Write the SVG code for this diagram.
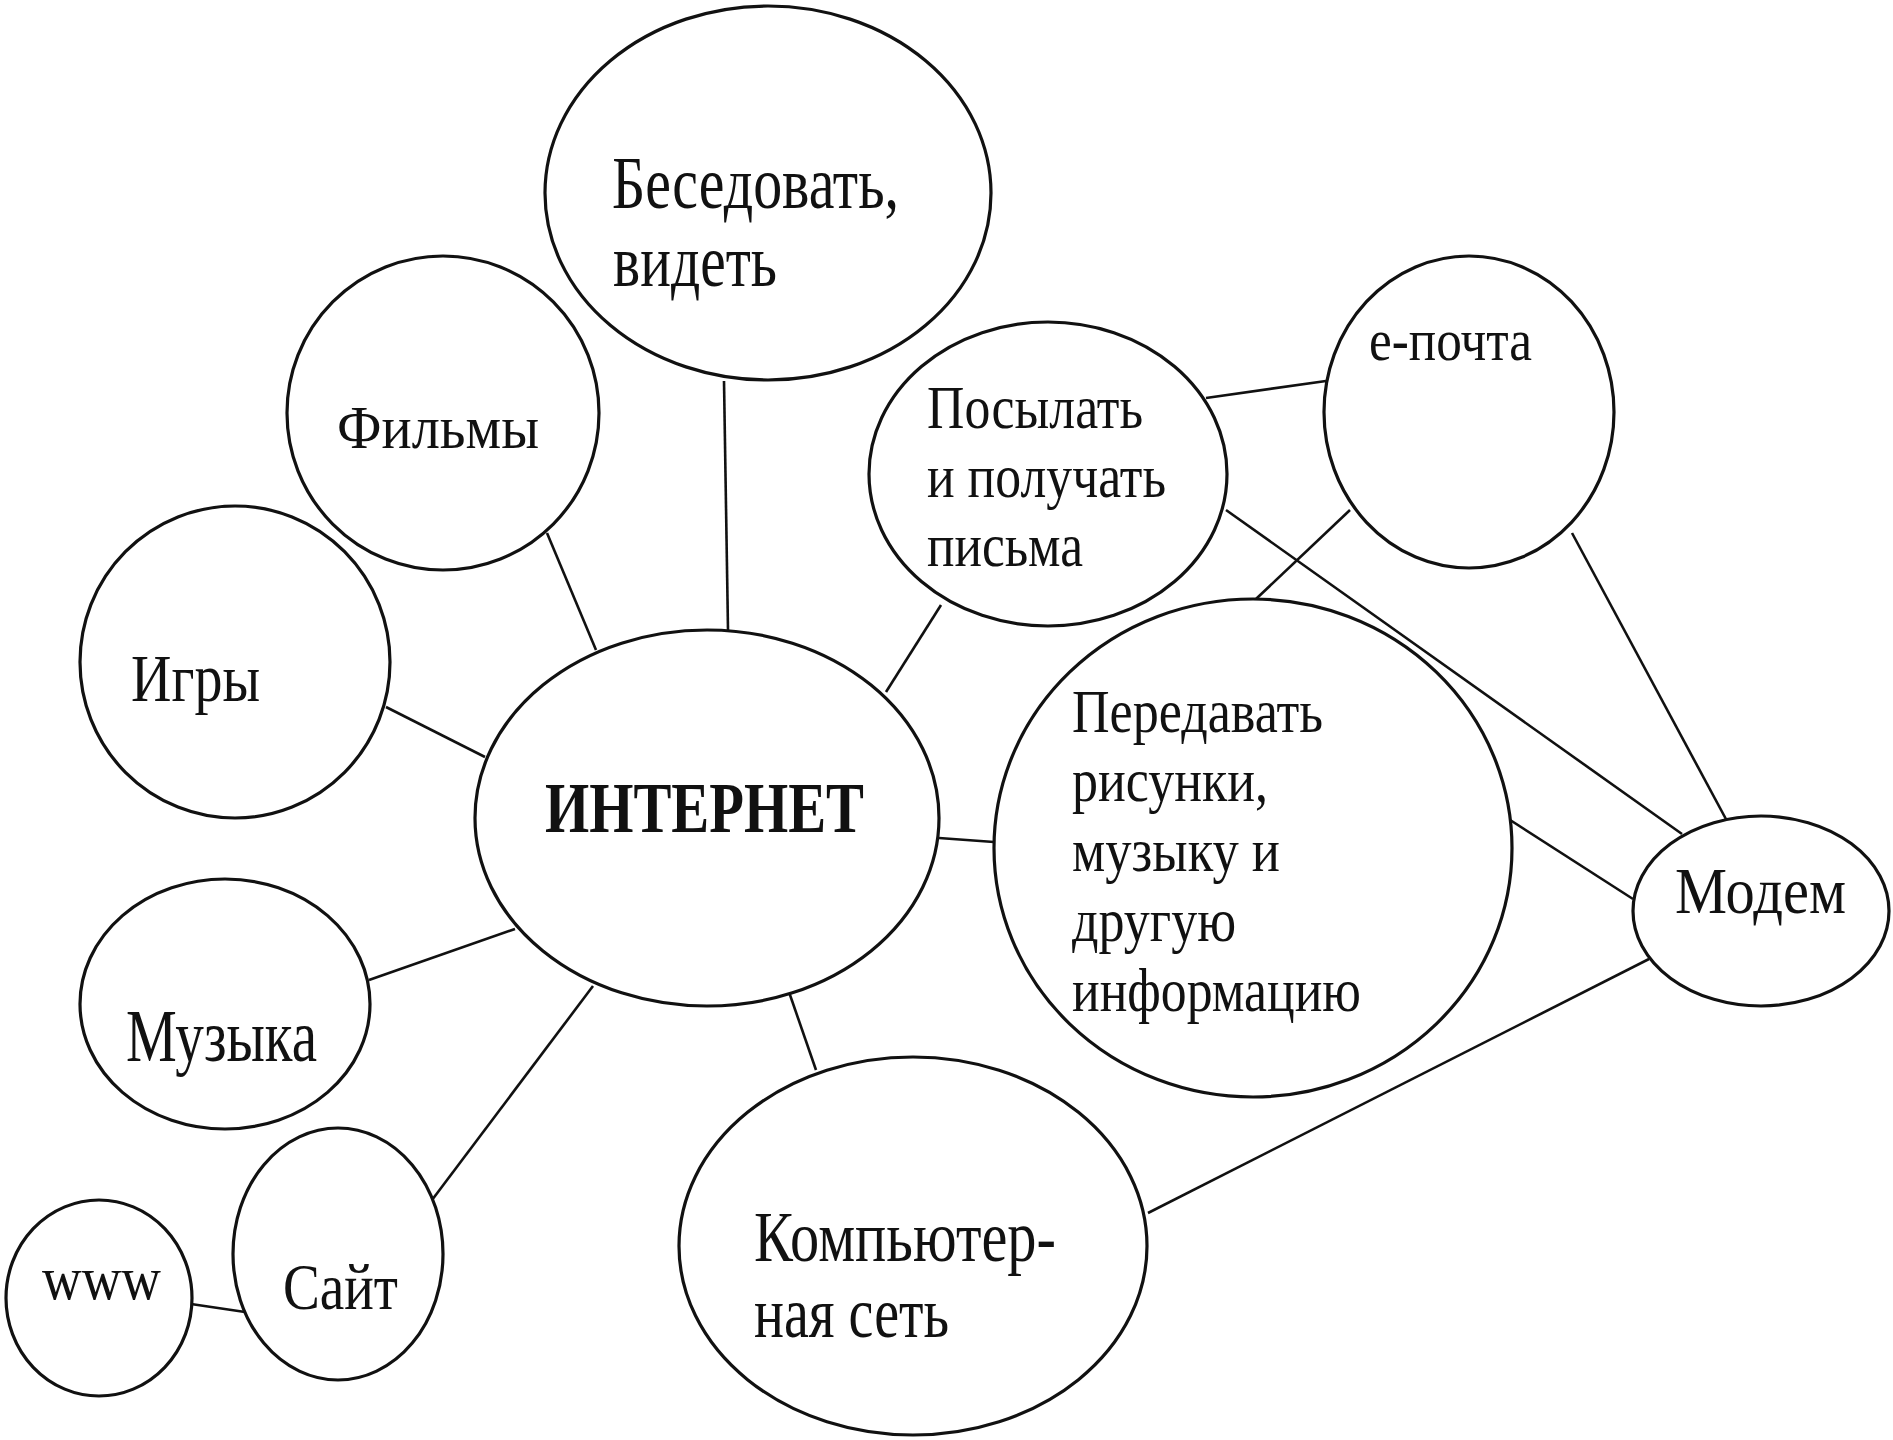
<svg xmlns="http://www.w3.org/2000/svg" width="1893" height="1440" viewBox="0 0 1893 1440">
<style>
.n{fill:#fff;stroke:#111;stroke-width:3.2}
.c line{stroke:#111;stroke-width:2.6}
text{font-family:"Liberation Serif","Times New Roman",serif;fill:#111}
</style>
<rect width="1893" height="1440" fill="#fff"/>
<g class="c" id="connectors">
<line x1="724" y1="381" x2="728" y2="630"/>
<line x1="547" y1="533" x2="596" y2="650"/>
<line x1="386" y1="707" x2="485" y2="757"/>
<line x1="369" y1="980" x2="515" y2="929"/>
<line x1="432" y1="1200" x2="593" y2="986"/>
<line x1="191" y1="1304" x2="245" y2="1312"/>
<line x1="789" y1="992" x2="816" y2="1070"/>
<line x1="886" y1="692" x2="941" y2="605"/>
<line x1="939" y1="838" x2="994" y2="842"/>
<line x1="1206" y1="398" x2="1326" y2="381"/>
<line x1="1350" y1="510" x2="1256" y2="599"/>
<line x1="1226" y1="510" x2="1682" y2="834"/>
<line x1="1572" y1="533" x2="1727" y2="821"/>
<line x1="1507" y1="818" x2="1633" y2="899"/>
<line x1="1148" y1="1213" x2="1649" y2="959"/>
</g>
<g id="n-besedovat">
<ellipse class="n" cx="768" cy="193" rx="223" ry="187"/>
<text x="612" y="208" font-size="74" textLength="287" lengthAdjust="spacingAndGlyphs">Беседовать,</text>
<text x="613" y="286" font-size="74" textLength="164" lengthAdjust="spacingAndGlyphs">видеть</text>
</g>
<g id="n-filmy">
<ellipse class="n" cx="443" cy="413" rx="156" ry="157"/>
<text x="337" y="448" font-size="61" textLength="202" lengthAdjust="spacingAndGlyphs">Фильмы</text>
</g>
<g id="n-igry">
<ellipse class="n" cx="235" cy="662" rx="155" ry="156"/>
<text x="131" y="701" font-size="68" textLength="129" lengthAdjust="spacingAndGlyphs">Игры</text>
</g>
<g id="n-internet">
<ellipse class="n" cx="707" cy="818" rx="232" ry="188"/>
<text x="545" y="832" font-size="72" font-weight="bold" textLength="319" lengthAdjust="spacingAndGlyphs">ИНТЕРНЕТ</text>
</g>
<g id="n-muzyka">
<ellipse class="n" cx="225" cy="1004" rx="145" ry="125"/>
<text x="126" y="1061" font-size="73" textLength="191" lengthAdjust="spacingAndGlyphs">Музыка</text>
</g>
<g id="n-www">
<ellipse class="n" cx="99" cy="1298" rx="93" ry="98"/>
<text x="42" y="1299" font-size="62" textLength="119" lengthAdjust="spacingAndGlyphs">www</text>
</g>
<g id="n-sait">
<ellipse class="n" cx="338" cy="1254" rx="105" ry="126"/>
<text x="283" y="1309" font-size="66" textLength="115" lengthAdjust="spacingAndGlyphs">Сайт</text>
</g>
<g id="n-kompyuter">
<ellipse class="n" cx="913" cy="1246" rx="234" ry="189"/>
<text x="754" y="1261" font-size="71" textLength="302" lengthAdjust="spacingAndGlyphs">Компьютер-</text>
<text x="754" y="1337" font-size="71" textLength="195" lengthAdjust="spacingAndGlyphs">ная сеть</text>
</g>
<g id="n-posylat">
<ellipse class="n" cx="1048" cy="474" rx="179" ry="152"/>
<text x="927" y="428" font-size="62" textLength="216" lengthAdjust="spacingAndGlyphs">Посылать</text>
<text x="927" y="497" font-size="62" textLength="239" lengthAdjust="spacingAndGlyphs">и получать</text>
<text x="927" y="566" font-size="62" textLength="156" lengthAdjust="spacingAndGlyphs">письма</text>
</g>
<g id="n-epochta">
<ellipse class="n" cx="1469" cy="412" rx="145" ry="156"/>
<text x="1369" y="360" font-size="60" textLength="163" lengthAdjust="spacingAndGlyphs">е-почта</text>
</g>
<g id="n-peredavat">
<ellipse class="n" cx="1253" cy="848" rx="259" ry="249"/>
<text x="1072" y="732" font-size="62" textLength="251" lengthAdjust="spacingAndGlyphs">Передавать</text>
<text x="1072" y="801" font-size="62" textLength="196" lengthAdjust="spacingAndGlyphs">рисунки,</text>
<text x="1072" y="871" font-size="62" textLength="208" lengthAdjust="spacingAndGlyphs">музыку и</text>
<text x="1072" y="941" font-size="62" textLength="164" lengthAdjust="spacingAndGlyphs">другую</text>
<text x="1072" y="1011" font-size="62" textLength="289" lengthAdjust="spacingAndGlyphs">информацию</text>
</g>
<g id="n-modem">
<ellipse class="n" cx="1761" cy="911" rx="128" ry="95"/>
<text x="1675" y="913" font-size="66" textLength="171" lengthAdjust="spacingAndGlyphs">Модем</text>
</g>
</svg>
